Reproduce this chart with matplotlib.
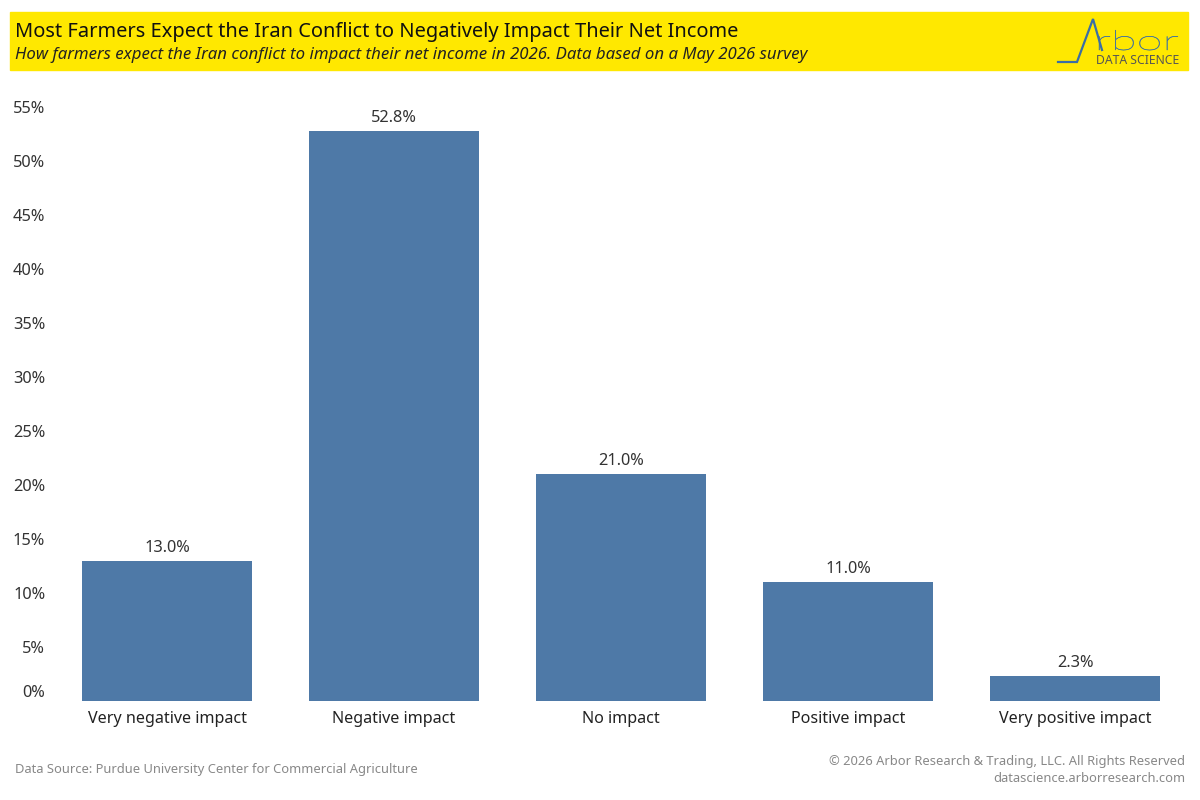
import matplotlib
matplotlib.use("Agg")
import matplotlib.pyplot as plt
from matplotlib.lines import Line2D
from matplotlib.patches import Rectangle, PathPatch
from matplotlib.textpath import TextPath
from matplotlib.font_manager import FontProperties
from matplotlib.transforms import Affine2D, IdentityTransform
from matplotlib.ticker import FixedLocator, FuncFormatter

categories = ["Very negative impact", "Negative impact", "No impact",
              "Positive impact", "Very positive impact"]
values = [13.0, 52.8, 21.0, 11.0, 2.3]
yticks = [0, 5, 10, 15, 20, 25, 30, 35, 40, 45, 50, 55]

title = "Most Farmers Expect the Iran Conflict to Negatively Impact Their Net Income"
subtitle = ("How farmers expect the Iran conflict to impact their net income in 2026. "
            "Data based on a May 2026 survey")
source = "Data Source: Purdue University Center for Commercial Agriculture"
copyright_txt = "\u00a9 2026 Arbor Research & Trading, LLC. All Rights Reserved"
site = "datascience.arborresearch.com"

plt.rcParams['font.family'] = ['Noto Sans', 'DejaVu Sans']

W, H = 1200, 800
fig = plt.figure(figsize=(12, 8), dpi=100)

def fx(px): return px / W
def fy(py): return 1 - py / H

# header band
fig.patches.append(Rectangle((fx(10), fy(70)), fx(1188) - fx(10), fy(12) - fy(70),
                             transform=fig.transFigure, color="#FFE800", zorder=0))
fig.text(fx(15), fy(32), title, fontsize=14.4, color="#111111", va="center", ha="left")
fig.text(fx(15), fy(55), subtitle, fontsize=12.1, style="italic", color="#222222",
         va="center", ha="left")

# logo
logo_blue = "#3A6EA5"
fig.add_artist(Line2D([fx(1058), fx(1077), fx(1093), fx(1102)],
                      [fy(62), fy(62), fy(19), fy(50)],
                      transform=fig.transFigure, color=logo_blue, lw=1.6,
                      solid_joinstyle="miter"))
tp = TextPath((0, 0), "rbor", size=10, prop=FontProperties(family="Lato", weight="light"))
ext = tp.get_extents()
sx = 79 / ext.width
sy = 20 / ext.height
tr = (Affine2D().translate(-ext.x0, 0).scale(sx, sy)
      .translate(1099, H - 50))
fig.add_artist(PathPatch(tr.transform_path(tp), transform=IdentityTransform(),
                         facecolor=logo_blue, edgecolor=logo_blue, lw=0.3))
fig.text(fx(1179), fy(61), "DATA SCIENCE", fontsize=8.8, color="#555555",
         va="center", ha="right")

# axes: categories centered at 167..1075 px, band 227 px; 0 at y=701, 10.8 px per %
ax = fig.add_axes([fx(53.5), fy(701), fx(1188.5) - fx(53.5), fy(101) - fy(701)])
x = list(range(len(categories)))
bars = ax.bar(x, values, width=0.75, color="#4E79A7", zorder=2)
ax.set_xlim(-0.5, len(categories) - 0.5)
ax.set_ylim(0, 600 / 10.8)

for xi, v in zip(x, values):
    ax.text(xi, v + 0.45, f"{v:.1f}%", ha="center", va="bottom", fontsize=11.8,
            color="#333333")

ax.set_xticks(x)
ax.set_xticklabels(categories, fontsize=11.6, color="#222222")
ax.yaxis.set_major_locator(FixedLocator(yticks))
ax.yaxis.set_major_formatter(FuncFormatter(lambda v, p: f"{v:.0f}%"))
ax.tick_params(axis="y", length=0, pad=6, labelsize=11.8, labelcolor="#333333")
ax.tick_params(axis="x", length=0, pad=7)
for lab in ax.get_yticklabels():
    if lab.get_text() == "0%":
        lab.set_va("bottom")
for s in ax.spines.values():
    s.set_visible(False)

fig.text(fx(15), fy(769), source, fontsize=9.3, color="#888888", va="center", ha="left")
fig.text(fx(1185), fy(761), copyright_txt, fontsize=9.3, color="#888888",
         va="center", ha="right")
fig.text(fx(1185), fy(779), site, fontsize=9.3, color="#888888", va="center", ha="right")

fig.savefig("out.png", dpi=100)
